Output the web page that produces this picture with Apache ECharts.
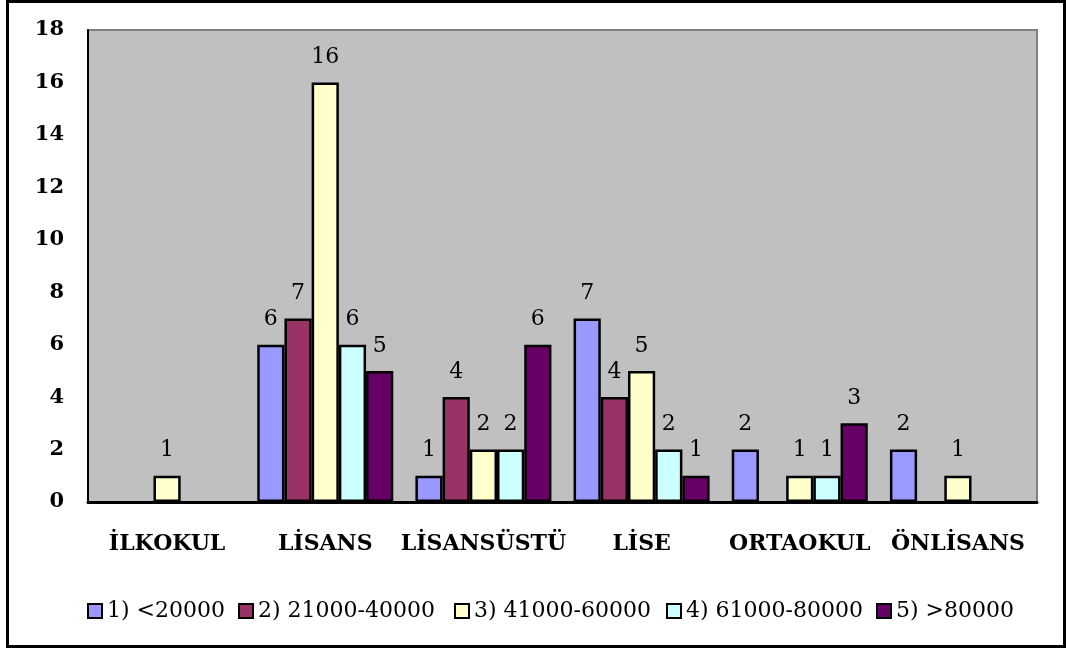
<!DOCTYPE html>
<html>
<head>
<meta charset="utf-8">
<script src="https://cdn.jsdelivr.net/npm/echarts@6/dist/echarts.min.js"></script>
<style>
  html, body { margin: 0; padding: 0; background: #fff; }
  #chart { width: 1066px; height: 650px; }
</style>
</head>
<body>
<div id="chart"></div>
<script>
// kategoriler (eğitim durumu)
const categories = ['İLKOKUL', 'LİSANS', 'LİSANSÜSTÜ', 'LİSE', 'ORTAOKUL', 'ÖNLİSANS'];
const seriesNames = ['1) <20000', '2) 21000-40000', '3) 41000-60000', '4) 61000-80000', '5) >80000'];
// null = sıfır, çubuk ve etiket yok
const gelir1 = [null, 6, 1, 7, 2, 2];
const gelir2 = [null, 7, 4, 4, null, null];
const gelir3 = [1, 16, 2, 5, 1, 1];
const gelir4 = [null, 6, 2, 2, 1, null];
const gelir5 = [null, 5, 6, 1, 3, null];
const yTicks = [0, 2, 4, 6, 8, 10, 12, 14, 16, 18];

const colorList = ['#9999FF', '#993366', '#FFFFCC', '#CCFFFF', '#660066'];
const allData = [gelir1, gelir2, gelir3, gelir4, gelir5];
const font = 'DejaVu Serif';
// legend kutularının x konumları
const legendLeft = [82, 233, 449, 661, 871];

let series = [];
let legends = [];
allData.forEach((d, i) => {
  series.push({
    name: seriesNames[i],
    type: 'bar',
    barGap: '0%',
    barCategoryGap: '14%',
    itemStyle: {
      color: colorList[i],
      borderColor: '#000',
      borderWidth: 2.5
    },
    label: {
      show: true,
      position: 'top',
      distance: 14,
      color: '#000',
      fontFamily: font,
      fontSize: 22
    },
    data: d
  });
  legends.push({
    left: legendLeft[i],
    top: 595,
    icon: 'rect',
    itemWidth: 14,
    itemHeight: 14,
    itemGap: 0,
    itemStyle: { borderColor: '#000', borderWidth: 2 },
    formatter: '{t|{name}}',
    textStyle: {
      fontFamily: font, fontSize: 22, color: '#000',
      rich: { t: { fontFamily: font, fontSize: 22, color: '#000' } }
    },
    data: [seriesNames[i]]
  });
});

let myChart = echarts.init(document.getElementById('chart'));
myChart.setOption({
  animation: false,
  backgroundColor: '#fff',
  textStyle: { fontFamily: font },
  graphic: [{
    type: 'rect',
    shape: { x: 7.5, y: 1.5, width: 1057, height: 645 },
    style: { fill: 'none', stroke: '#000', lineWidth: 3 },
    silent: true
  }],
  legend: legends,
  grid: {
    left: 88,
    right: 29,
    top: 30,
    bottom: 148,
    show: true,
    backgroundColor: '#C0C0C0',
    borderColor: '#808080',
    borderWidth: 2
  },
  xAxis: {
    type: 'category',
    data: categories,
    axisLine: { lineStyle: { color: '#000', width: 3 } },
    axisTick: { show: false },
    axisLabel: {
      interval: 0,
      color: '#000',
      fontFamily: font,
      fontSize: 22,
      fontWeight: 'bold',
      margin: 31
    }
  },
  yAxis: {
    type: 'value',
    min: yTicks[0],
    max: yTicks[yTicks.length - 1],
    interval: 2,
    axisLine: { show: true, lineStyle: { color: '#000', width: 2 } },
    axisTick: { show: false },
    splitLine: { show: false },
    axisLabel: {
      color: '#000',
      fontFamily: font,
      fontSize: 21,
      fontWeight: 'bold',
      margin: 24
    }
  },
  series: series
});
</script>
</body>
</html>
